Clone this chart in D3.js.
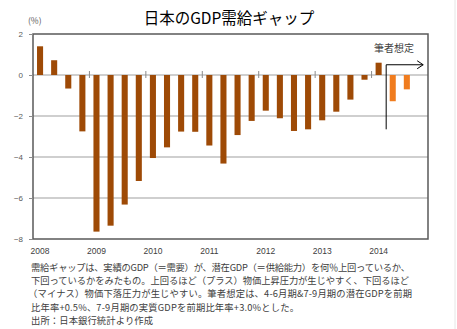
<!DOCTYPE html>
<html><head><meta charset="utf-8">
<script src="https://cdn.jsdelivr.net/npm/d3@7"></script>
<style>body{margin:0;background:#fff;}svg{display:block;}</style>
</head><body>
<script>
const quarters = [];
const years = [2008,2009,2010,2011,2012,2013,2014];
years.forEach(y => [1,2,3,4].forEach(q => quarters.push(y + "Q" + q)));
const gapValues = [1.40,0.72,-0.66,-2.75,-7.64,-7.35,-6.32,-5.17,-4.05,-3.53,-2.76,-2.77,-3.44,-4.32,-2.93,-2.24,-1.74,-2.11,-2.73,-2.65,-2.21,-1.79,-1.20,-0.23,0.60,-1.28,-0.70,null];
const forecastFlags = [0,0,0,0,0,0,0,0,0,0,0,0,0,0,0,0,0,0,0,0,0,0,0,0,0,1,1,0];
const yTicks = [2,0,-2,-4,-6,-8];
const yearLabels = ["2008","2009","2010","2011","2012","2013","2014"];
const title = "日本のGDP需給ギャップ";
const unitLabel = "(%)";
const annotation = "筆者想定";
const notes = [
 "需給ギャップは、実績のGDP（＝需要）が、潜在GDP（＝供給能力）を何％上回っているか、",
 "下回っているかをみたもの。上回るほど（プラス）物価上昇圧力が生じやすく、下回るほど",
 "（マイナス）物価下落圧力が生じやすい。筆者想定は、4-6月期&7-9月期の潜在GDPを前期",
 "比年率+0.5%、7-9月期の実質GDPを前期比年率+3.0%とした。",
 "出所：日本銀行統計より作成"
];

const W = 457, H = 329;
const L = 33, R = 428, T = 34, B = 239;
const svg = d3.select("body").append("svg").attr("width", W).attr("height", H)
  .style("font-family", "'Noto Sans CJK JP', sans-serif");

const x = d3.scaleBand().domain(quarters).range([L, R]).paddingInner(0.57).paddingOuter(0.285);
const y = d3.scaleLinear().domain([-8, 2]).range([B, T]);

// faint outer frame line at right
svg.append("line").attr("x1", 455).attr("x2", 455).attr("y1", 0).attr("y2", H)
  .attr("stroke", "#e6e6e6").attr("stroke-width", 1);

// gridlines
svg.append("g").selectAll("line").data(yTicks.filter(v => v > -8 && v < 2)).join("line")
  .attr("x1", L).attr("x2", R).attr("y1", d => y(d)).attr("y2", d => y(d))
  .attr("stroke", "#bfbfbf").attr("stroke-width", 1.3);

// bars
svg.append("g").selectAll("rect").data(quarters.map((q, i) => ({q, v: gapValues[i], f: forecastFlags[i]})).filter(d => d.v !== null))
  .join("rect")
  .attr("x", d => x(d.q)).attr("width", x.bandwidth())
  .attr("y", d => y(Math.max(0, d.v))).attr("height", d => Math.abs(y(d.v) - y(0)))
  .attr("fill", d => d.f ? "#F07C1E" : "#9E4A06");

// year boundary ticks on zero line
const step = x.step();
svg.append("g").selectAll("line").data(years.slice(1)).join("line")
  .attr("x1", d => x(d + "Q1") - (step - x.bandwidth()) / 2)
  .attr("x2", d => x(d + "Q1") - (step - x.bandwidth()) / 2)
  .attr("y1", y(0) - 4).attr("y2", y(0) + 3)
  .attr("stroke", "#8c8c8c").attr("stroke-width", 1);

// plot frame
svg.append("rect").attr("x", L).attr("y", T).attr("width", R - L).attr("height", B - T)
  .attr("fill", "none").attr("stroke", "#595959").attr("stroke-width", 1.5);

// y axis
const yAxis = d3.axisLeft(y).tickValues(yTicks).tickSize(4).tickPadding(6).tickFormat(d3.format("d"));
const ga = svg.append("g").attr("transform", `translate(${L},0)`).call(yAxis);
ga.select(".domain").remove();
ga.selectAll(".tick line").attr("stroke", "#8c8c8c");
ga.selectAll(".tick text").attr("fill", "#595959").style("font-size", "8px")
  .style("font-family", "'Liberation Sans', Arial, sans-serif");

// x labels
const xAxis = d3.axisBottom(x).tickValues(years.map(yv => yv + "Q1")).tickSize(0).tickPadding(9)
  .tickFormat((d, i) => yearLabels[i]);
const gx = svg.append("g").attr("transform", `translate(0,${B})`).call(xAxis);
gx.select(".domain").remove();
gx.selectAll(".tick text").attr("fill", "#404040").style("font-size", "8.5px")
  .style("font-family", "'Liberation Sans', Arial, sans-serif");

// title and unit
svg.append("text").attr("x", 229).attr("y", 24).attr("text-anchor", "middle")
  .style("font-size", "15.5px").attr("fill", "#000").text(title);
svg.append("text").attr("x", 28).attr("y", 24).style("font-size", "8.5px").attr("fill", "#595959").text(unitLabel);

// annotation
const ax = x("2014Q2") - (step - x.bandwidth()) / 2 + 0.5;
const ay = y(0.5);
svg.append("path").attr("d", `M${ax},${y(-2.65)}V${ay}H${ax + 37}`)
  .attr("fill", "none").attr("stroke", "#000").attr("stroke-width", 1);
svg.append("path").attr("d", `M${ax + 31},${ay - 4}L${ax + 37},${ay}L${ax + 31},${ay + 4}`)
  .attr("fill", "none").attr("stroke", "#000").attr("stroke-width", 1);
svg.append("text").attr("x", 394).attr("y", 52).attr("text-anchor", "middle")
  .style("font-size", "10px").attr("fill", "#404040").text(annotation);

// notes
const noteX = [31, 31, 28, 31, 31];
const noteW = [379, 378, 384, 268, 122];
notes.forEach((t, i) => {
  const el = svg.append("text").attr("x", noteX[i]).attr("y", 270.5 + i * 13.4)
    .style("font-size", "9.3px").attr("fill", "#404040").text(t);
  if (noteW[i]) el.attr("textLength", noteW[i]).attr("lengthAdjust", "spacing");
});
</script>
</body></html>
